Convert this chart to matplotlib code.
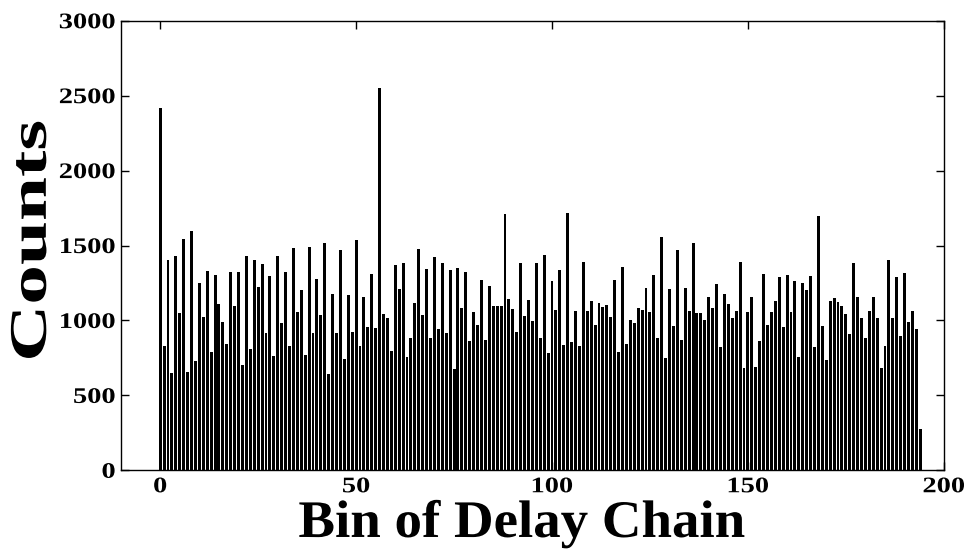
import matplotlib
matplotlib.use("Agg")
import matplotlib.pyplot as plt
import numpy as np
from matplotlib.patheffects import AbstractPathEffect
from matplotlib.transforms import Affine2D

# Histogram counts for each bin of the delay chain (bins 0..194)
bins = np.arange(195)
counts = [
    2420, 830, 1400, 647, 1431, 1048, 1542, 659, 1598, 730,
    1248, 1023, 1331, 788, 1304, 1113, 988, 841, 1322, 1095,
    1322, 703, 1431, 808, 1404, 1226, 1375, 915, 1297, 763,
    1431, 981, 1322, 830, 1482, 1059, 1202, 772, 1489, 919,
    1275, 1035, 1515, 641, 1175, 919, 1469, 741, 1173, 926,
    1538, 830, 1155, 959, 1309, 952, 2553, 1041, 1017, 799,
    1369, 1208, 1382, 756, 883, 1119, 1475, 1037, 1342, 883,
    1424, 941, 1382, 915, 1337, 678, 1349, 1086, 1322, 861,
    1055, 972, 1271, 870, 1233, 1099, 1093, 1093, 1711, 1144,
    1075, 926, 1382, 1030, 1137, 999, 1382, 881, 1437, 785,
    1266, 1070, 1335, 839, 1718, 857, 1064, 832, 1393, 1062,
    1130, 970, 1119, 1088, 1106, 1023, 1271, 790, 1355, 843,
    1004, 983, 1082, 1070, 1219, 1055, 1304, 883, 1560, 750,
    1208, 963, 1469, 870, 1219, 1064, 1515, 1048, 1048, 1004,
    1157, 1082, 1244, 826, 1175, 1110, 1017, 1062, 1393, 685,
    1055, 1157, 692, 863, 1311, 968, 1055, 1130, 1291, 959,
    1304, 1055, 1266, 756, 1248, 1202, 1297, 826, 1698, 963,
    737, 1130, 1148, 1126, 1099, 1041, 908, 1386, 1157, 1017,
    883, 1062, 1157, 1017, 685, 832, 1404, 1017, 1291, 895,
    1317, 990, 1062, 941, 276,
]

x_ticks = [0, 50, 100, 150, 200]
y_ticks = [0, 500, 1000, 1500, 2000, 2500, 3000]

serif = "Liberation Serif"


class Widen(AbstractPathEffect):
    """Stretch glyphs along the text baseline around a chosen anchor."""

    def __init__(self, factor, anchor="center"):
        super().__init__()
        self.factor = factor
        self.anchor = anchor

    def draw_path(self, renderer, gc, tpath, affine, rgbFace=None):
        ext = tpath.get_extents()
        if self.anchor == "right":
            cx = ext.x1
        elif self.anchor == "left":
            cx = ext.x0
        else:
            cx = 0.5 * (ext.x0 + ext.x1)
        stretch = Affine2D().translate(-cx, 0).scale(self.factor, 1.0).translate(cx, 0)
        renderer.draw_path(gc, tpath, stretch + affine, rgbFace)


fig = plt.figure(figsize=(9.68, 5.52), dpi=100)
ax = fig.add_axes([0.125, 0.148, 0.850, 0.8145])

ax.bar(bins, counts, width=0.75, color="black", linewidth=0)

ax.set_xlim(-10, 200)
ax.set_ylim(0, 3000)
ax.set_xticks(x_ticks)
ax.set_yticks(y_ticks)
ax.tick_params(direction="in", length=6, width=1, top=True, right=True,
               labelsize=16)
ax.tick_params(axis="x", pad=5)
ax.tick_params(axis="y", pad=4)
for lab in ax.get_xticklabels():
    lab.set_fontfamily(serif)
    lab.set_fontweight("bold")
    lab.set_path_effects([Widen(1.28, "center")])
for lab in ax.get_yticklabels():
    lab.set_fontfamily(serif)
    lab.set_fontweight("bold")
    lab.set_path_effects([Widen(1.28, "right")])

for side in ["left", "right", "top", "bottom"]:
    ax.spines[side].set_linewidth(1.0)
    ax.spines[side].set_color("black")

xl = ax.set_xlabel("Bin of Delay Chain", fontsize=38, fontweight="bold",
                   family=serif)
xl.set_path_effects([Widen(1.04, "center")])
ax.xaxis.set_label_coords(0.487, -0.066)

yl = ax.set_ylabel("Counts", fontsize=38, fontweight="bold", family=serif)
yl.set_path_effects([Widen(1.5, "center")])
ax.yaxis.set_label_coords(-0.078, 0.511)

fig.savefig("out.png", dpi=100)
